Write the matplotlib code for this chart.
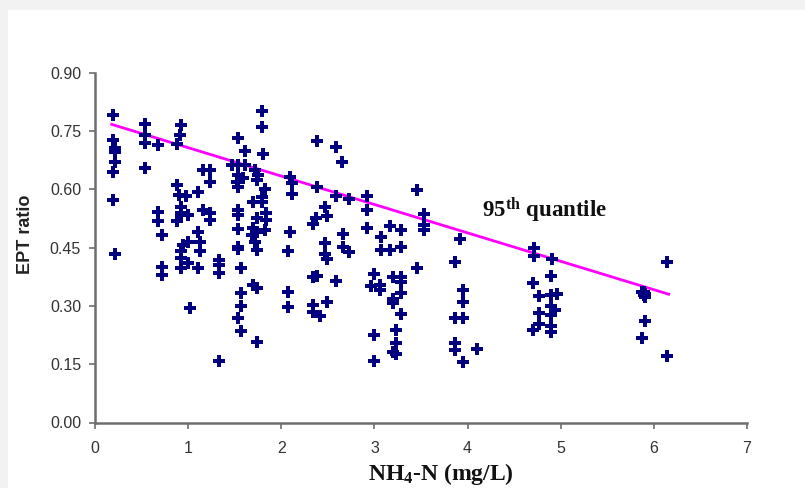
import matplotlib
matplotlib.use("Agg")
import matplotlib.pyplot as plt
from matplotlib.patches import Rectangle

plt.rcParams['mathtext.fontset'] = 'custom'
plt.rcParams['mathtext.rm'] = 'Liberation Serif:bold'
plt.rcParams['mathtext.default'] = 'rm'

# NH4-N (mg/L) values
nh4 = [0.19, 0.19, 0.21, 0.22, 0.22, 0.19, 0.19, 0.22,
       0.54, 0.54, 0.54, 0.54,
       0.68, 0.68, 0.68, 0.72, 0.72, 0.72,
       0.92, 0.91, 0.88, 0.88, 0.90, 0.98, 0.92, 0.92, 1.00, 0.88, 1.00, 0.94, 0.92, 0.92, 1.00, 0.92, 1.02,
       1.11, 1.16, 1.23, 1.23, 1.16, 1.23, 1.23, 1.11, 1.13, 1.13, 1.11,
       1.335, 1.335, 1.335, 1.335,
       1.54, 1.61, 1.47, 1.54, 1.61, 1.54, 1.59, 1.52, 1.54, 1.54, 1.54, 1.54, 1.54, 1.54, 1.57, 1.57, 1.57, 1.53, 1.57,
       1.79, 1.79, 1.80, 1.72, 1.75, 1.74, 1.83, 1.79, 1.70, 1.79, 1.84, 1.74, 1.84, 1.70, 1.83, 1.74, 1.69, 1.72, 1.74, 1.70, 1.74, 1.74,
       2.09, 2.11, 2.11, 2.09, 2.07, 2.07, 2.07,
       2.38, 2.59, 2.65, 2.38, 2.59, 2.73, 2.47, 2.49, 2.37, 2.34, 2.66, 2.47, 2.66, 2.73, 2.47, 2.49, 2.34, 2.38, 2.59, 2.49, 2.34, 2.34, 2.42,
       2.92, 2.92, 2.92, 3.07, 3.07, 3.00, 2.96, 3.06, 3.06, 3.00, 3.00,
       3.17, 3.28, 3.17, 3.28, 3.20, 3.28, 3.28, 3.28, 3.20, 3.20, 3.28, 3.23, 3.23, 3.20, 3.23,
       3.46, 3.53, 3.53, 3.53, 3.46,
       3.92, 3.86, 3.95, 3.95, 3.86, 3.95, 3.86, 3.86, 4.10, 3.95,
       4.71, 4.71, 4.91, 4.90, 4.70, 4.77, 4.90, 4.96, 4.90, 4.94, 4.90, 4.77, 4.77, 4.70, 4.90, 4.90,
       6.14, 5.89, 5.89, 5.91, 5.87, 5.91, 5.91, 5.87, 6.14]

# EPT ratio values
ept = [0.791, 0.727, 0.705, 0.697, 0.671, 0.645, 0.572, 0.433,
       0.767, 0.740, 0.718, 0.654,
       0.714, 0.542, 0.518, 0.482, 0.401, 0.379,
       0.765, 0.740, 0.716, 0.611, 0.585, 0.583, 0.555, 0.538, 0.535, 0.518, 0.465, 0.457, 0.440, 0.422, 0.410, 0.397, 0.294,
       0.592, 0.650, 0.650, 0.620, 0.547, 0.538, 0.521, 0.491, 0.465, 0.440, 0.397,
       0.418, 0.405, 0.384, 0.159,
       0.733, 0.699, 0.662, 0.662, 0.662, 0.637, 0.628, 0.620, 0.607, 0.547, 0.534, 0.497, 0.452, 0.447, 0.398, 0.332, 0.300, 0.270, 0.235,
       0.801, 0.761, 0.690, 0.650, 0.637, 0.624, 0.602, 0.581, 0.568, 0.568, 0.538, 0.525, 0.521, 0.500, 0.495, 0.491, 0.482, 0.465, 0.444, 0.354, 0.347, 0.208,
       0.632, 0.615, 0.587, 0.491, 0.440, 0.337, 0.298,
       0.725, 0.708, 0.669, 0.607, 0.583, 0.575, 0.554, 0.532, 0.527, 0.512, 0.484, 0.461, 0.452, 0.438, 0.433, 0.421, 0.375, 0.378, 0.365, 0.311, 0.302, 0.285, 0.275,
       0.583, 0.548, 0.501, 0.478, 0.444, 0.381, 0.352, 0.354, 0.341, 0.225, 0.159,
       0.506, 0.495, 0.444, 0.452, 0.375, 0.375, 0.362, 0.332, 0.318, 0.307, 0.279, 0.238, 0.204, 0.181, 0.175,
       0.598, 0.536, 0.508, 0.495, 0.397,
       0.471, 0.412, 0.341, 0.309, 0.270, 0.270, 0.204, 0.187, 0.189, 0.155,
       0.448, 0.429, 0.421, 0.378, 0.360, 0.326, 0.328, 0.331, 0.301, 0.289, 0.277, 0.281, 0.253, 0.238, 0.249, 0.232,
       0.414, 0.337, 0.328, 0.324, 0.335, 0.331, 0.261, 0.218, 0.171]

# 95th quantile line end points
q95_x = [0.18, 6.16]
q95_y = [0.767, 0.330]

x_ticks = [0, 1, 2, 3, 4, 5, 6, 7]
y_ticks = [0.00, 0.15, 0.30, 0.45, 0.60, 0.75, 0.90]

fig = plt.figure(figsize=(8.05, 4.88), dpi=100)
fig.patch.set_facecolor('#f2f2f2')
fig.patches.append(Rectangle((8 / 805, 0), 1, 1 - 10 / 488, transform=fig.transFigure,
                             facecolor='white', edgecolor='none', zorder=-10))

ax = fig.add_axes([95 / 805, 1 - 422.5 / 488, (747 - 95) / 805, (422.5 - 72.7) / 488])
ax.set_facecolor('none')

ax.plot(nh4, ept, linestyle='none', marker='P', markersize=8, color='#000080',
        markeredgewidth=0, zorder=3)
ax.plot(q95_x, q95_y, color='#ff00ff', linewidth=2.0, zorder=2)

ax.set_xlim(0, 7)
ax.set_ylim(0, 0.9)
ax.set_xticks(x_ticks)
ax.set_xticklabels([str(t) for t in x_ticks])
ax.set_yticks(y_ticks)
ax.set_yticklabels([f"{t:.2f}" for t in y_ticks])

for s in ['top', 'right']:
    ax.spines[s].set_visible(False)
for s in ['left', 'bottom']:
    ax.spines[s].set_color('#6e6e6e')
    ax.spines[s].set_linewidth(1.8)

ax.tick_params(axis='both', direction='out', length=4, width=1.2, color='#6e6e6e',
               labelcolor='#333333', labelsize=11.5)
ax.tick_params(axis='x', pad=9)
ax.tick_params(axis='y', pad=6)
for lab in ax.get_xticklabels() + ax.get_yticklabels():
    lab.set_family('Liberation Sans')

ax.text(4.15, 0.528, r'95$^{\mathrm{th}}$ quantile', family='Liberation Serif',
        fontweight='bold', fontsize=16.5, va='baseline', ha='left', color='#111111')

fig.text(441 / 805, 1 - 474 / 488, r'NH$_{4}$-N (mg/L)', family='Liberation Serif',
         fontweight='bold', fontsize=17, ha='center', va='center', color='#111111')
fig.text(25 / 805, 1 - 234 / 488, 'EPT ratio', family='Liberation Sans',
         fontweight='bold', fontsize=13, rotation=90, ha='center', va='center', color='#222222')

fig.savefig('out.png', dpi=100)
